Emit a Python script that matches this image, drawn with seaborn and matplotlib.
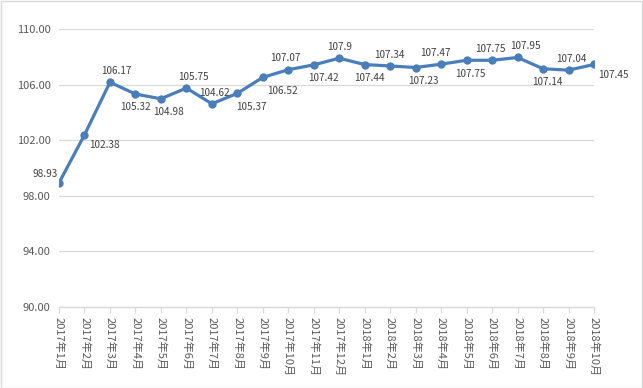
import matplotlib
matplotlib.use("Agg")
import matplotlib.pyplot as plt
import seaborn as sns
import pandas as pd
from matplotlib.patches import Rectangle

months = ["2017年1月", "2017年2月", "2017年3月", "2017年4月", "2017年5月", "2017年6月",
          "2017年7月", "2017年8月", "2017年9月", "2017年10月", "2017年11月", "2017年12月",
          "2018年1月", "2018年2月", "2018年3月", "2018年4月", "2018年5月", "2018年6月",
          "2018年7月", "2018年8月", "2018年9月", "2018年10月"]
values = [98.93, 102.38, 106.17, 105.32, 104.98, 105.75, 104.62, 105.37, 106.52, 107.07,
          107.42, 107.9, 107.44, 107.34, 107.23, 107.47, 107.75, 107.75, 107.95, 107.14,
          107.04, 107.45]
# label placement: 'a' above, 'b' below, 'l' left, 'r' right
label_pos = ["l", "r", "a", "b", "b", "a", "a", "b", "b", "a", "b", "a",
             "b", "a", "b", "a", "b", "a", "a", "b", "a", "r"]
# horizontal nudges of the labels, in pixels
label_dx = [0, 0, 6, 0, 8, 7, 3, 14, 20, -3, 10, 0,
            5, -1, 8, -6, 4, -2, 8, 4, 3, 0]
yticks = [90, 94, 98, 102, 106, 110]

sns.set_theme(style="white")
plt.rcParams['font.family'] = ['Noto Sans CJK SC', 'DejaVu Sans']

df = pd.DataFrame({"x": range(len(months)), "y": values})

fig = plt.figure(figsize=(6.43, 3.88), dpi=100)
ax = fig.add_axes([59 / 643, 1 - 307 / 388, (594 - 59) / 643, (307 - 29) / 388])

color = "#4A7EBB"
sns.lineplot(data=df, x="x", y="y", ax=ax, color=color, linewidth=2.3,
             marker="o", markersize=6, markeredgewidth=0, zorder=3)

ax.set_xlim(0, len(months) - 1)
ax.set_ylim(90, 110)
ax.set_yticks(yticks)
ax.set_yticklabels([f"{v:.2f}" for v in yticks], color="#595959", fontsize=8)
ax.set_xticks(range(len(months)))
ax.set_xticklabels(months, rotation=-90, color="#595959", fontsize=8, va="top", ha="center")
ax.set_xlabel("")
ax.set_ylabel("")
ax.yaxis.grid(True, color="#D9D9D9", linewidth=0.9)
ax.xaxis.grid(False)
for s in ["left", "right", "top"]:
    ax.spines[s].set_visible(False)
ax.spines["bottom"].set_color("#D9D9D9")
ax.spines["bottom"].set_linewidth(1.0)
ax.tick_params(axis="x", which="major", bottom=True, length=4, width=0.9,
               color="#D9D9D9", pad=3)
ax.tick_params(axis="y", length=0, pad=6)

px = 0.72
offsets = {"a": (0, 4.5, "center", "bottom"), "b": (0, -6, "center", "top"),
           "l": (-1, 3, "right", "bottom"), "r": (3, -4, "left", "top")}
for i, (v, p, dxp) in enumerate(zip(values, label_pos, label_dx)):
    dx, dy, ha, va = offsets[p]
    ax.annotate(f"{v:g}", (i, v), xytext=(dx + dxp * px, dy), textcoords="offset points",
                ha=ha, va=va, fontsize=7.2, color="#404040")

fig.patches.append(Rectangle((0.5 / 643, 0.5 / 388), 641.5 / 643, 386.5 / 388,
                             transform=fig.transFigure, fill=False,
                             edgecolor="#D9D9D9", linewidth=1.0))

fig.savefig("out.png", dpi=100)
